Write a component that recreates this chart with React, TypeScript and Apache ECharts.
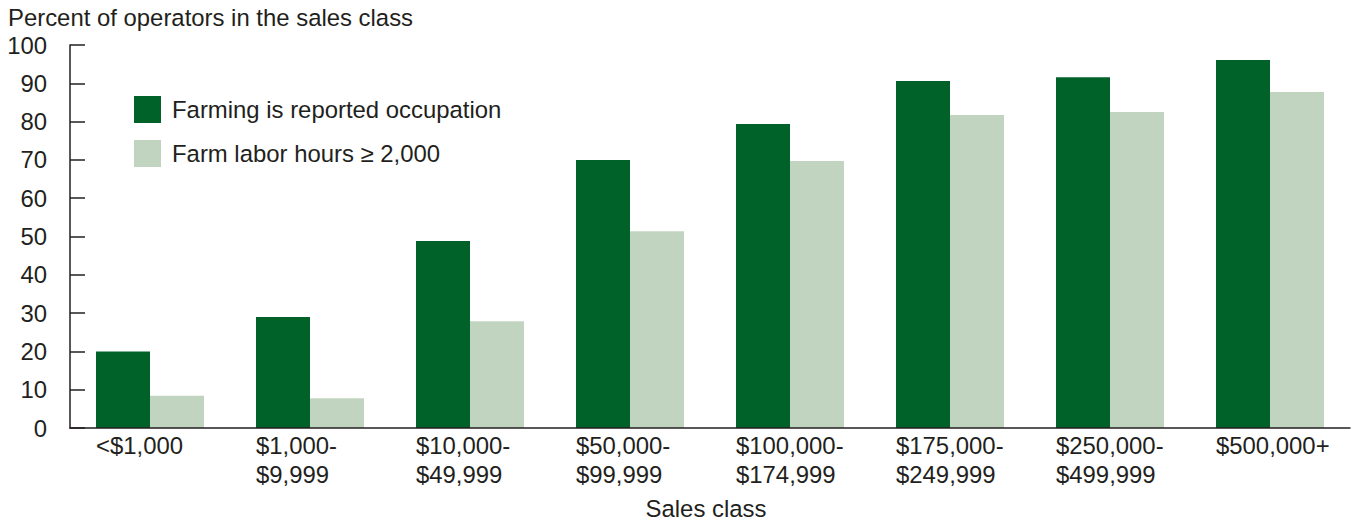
import React, { useEffect, useRef } from "react";
import * as echarts from "echarts";

const categories = [
  "<$1,000",
  "$1,000-\n$9,999",
  "$10,000-\n$49,999",
  "$50,000-\n$99,999",
  "$100,000-\n$174,999",
  "$175,000-\n$249,999",
  "$250,000-\n$499,999",
  "$500,000+",
];
const farmingOccupation = [20, 29, 48.8, 70, 79.4, 90.6, 91.6, 96.1];
const laborHours = [8.4, 7.8, 27.9, 51.4, 69.7, 81.7, 82.5, 87.7];
const seriesNames = ["Farming is reported occupation", "Farm labor hours \u2265 2,000"];
const yTicks = [0, 10, 20, 30, 40, 50, 60, 70, 80, 90, 100];

const FONT = "'Liberation Sans', Arial, Helvetica, sans-serif";
const TXT = "#231f20";
const FS = 23.9;

export default function App() {
  const ref = useRef<HTMLDivElement>(null);
  useEffect(() => {
    if (!ref.current) return;
    const chart = echarts.init(ref.current, undefined, { renderer: "svg" });
    chart.setOption({
      animation: false,
      textStyle: { fontFamily: FONT, color: TXT },
      grid: { left: 70, right: 4, top: 45, bottom: 93, containLabel: false },
      legend: {
        orient: "vertical",
        left: 134,
        top: 96,
        padding: 0,
        itemWidth: 27,
        itemHeight: 27,
        itemGap: 17,
        icon: "rect",
        data: seriesNames,
        textStyle: { fontSize: FS, color: TXT, fontFamily: FONT, padding: [0, 0, 0, 6] },
      },
      graphic: [
        {
          type: "text",
          left: 8,
          top: 5,
          style: { text: "Percent of operators in the sales class", font: `${FS}px ${FONT}`, fill: TXT },
        },
        {
          type: "text",
          x: 706,
          y: 496,
          style: { text: "Sales class", font: `${FS}px ${FONT}`, fill: TXT, textAlign: "center" },
        },
      ],
      xAxis: {
        type: "category",
        data: categories,
        z: 5,
        axisLine: { lineStyle: { color: TXT, width: 1.5 } },
        axisTick: { inside: true, length: 12, alignWithLabel: true, lineStyle: { color: TXT, width: 1.5 } },
        axisLabel: {
          interval: 0,
          color: TXT,
          fontSize: FS,
          fontFamily: FONT,
          lineHeight: 29,
          margin: 3,
          align: "left",
          padding: [0, 0, 0, -54],
        },
      },
      yAxis: {
        type: "value",
        min: 0,
        max: 100,
        interval: 10,
        splitLine: { show: false },
        axisLine: { show: true, lineStyle: { color: TXT, width: 1.5 } },
        axisTick: { show: true, inside: true, length: 15, lineStyle: { color: TXT, width: 1.5 } },
        axisLabel: {
          color: TXT,
          fontSize: FS,
          fontFamily: FONT,
          margin: 23,
          formatter: (v: number) => (yTicks.includes(v) ? String(v) : ""),
        },
      },
      series: [
        {
          name: seriesNames[0],
          type: "bar",
          data: farmingOccupation,
          barWidth: 54,
          barGap: "0%",
          itemStyle: { color: "#006229" },
        },
        {
          name: seriesNames[1],
          type: "bar",
          data: laborHours,
          barWidth: 54,
          barGap: "0%",
          itemStyle: { color: "#c1d4bf" },
        },
      ],
    });
    return () => chart.dispose();
  }, []);
  return (
    <div
      ref={ref}
      style={{ position: "fixed", left: 0, top: 0, width: 1354, height: 521, background: "#fff" }}
    />
  );
}
